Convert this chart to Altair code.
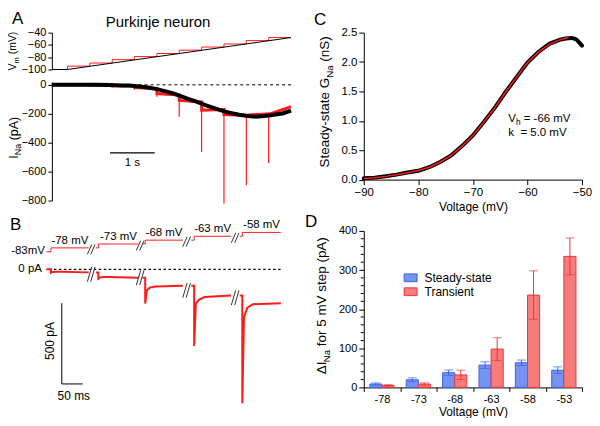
import altair as alt
import pandas as pd

FONT = "Liberation Sans"
RED = "#ff1a1a"
BLUE_FILL = "#7593f3"
BLUE_EDGE = "#3d63e6"
RED_FILL = "#f77b7b"
RED_EDGE = "#e5383b"

# ---------------- Panel A data ----------------
A_T_END = 5.35
STEP_T = [0.35, 0.85, 1.35, 1.85, 2.35, 2.85, 3.35, 3.85, 4.35, 4.85]
STEP_DUR = 0.5
VM_LEVEL = [-94.5, -89.5, -84, -79, -74, -68.5, -63.5, -58.5, -53, -48]
RAMP_T = [0, 0.35, 5.35]
RAMP_V = [-100, -100, -48]
RED_I_START = [0, -3, -6, -18, -60, -108, -175, -205, -210, -205]
RED_I_END = [0, -3, -8, -28, -70, -118, -170, -210, -200, -150]
RED_I_SPIKE = [-10, -15, -20, -35, -82, -220, -465, -820, -695, -540]
BLACK_T = [0, 0.5, 1.0, 1.3, 1.58, 1.74, 1.96, 2.15, 2.33, 2.48, 2.70, 2.85, 3.08,
           3.22, 3.45, 3.60, 3.82, 3.97, 4.19, 4.34, 4.56, 4.79, 4.86, 5.08, 5.16, 5.35]
BLACK_I = [0, 1, 0, -1, -4, -5, -11, -18, -28, -40, -57, -75, -100,
           -115, -142, -157, -180, -192, -207, -214, -220, -213, -212, -202, -198, -178]
A_SCALEBAR_T = [1.3, 2.3]
A_SCALEBAR_I = -471

# ---------------- Panel B data ----------------
B_SEG_START = [-13, 105, 217, 333, 449]
B_STEP_AT = [-2, 111, 223, 340, 455]
B_SEG_END = [88, 207, 313, 428, 547]
B_V_LEVELS = [-83, -78, -73, -68, -63, -58]
B_I_PRE = [0, -19, -52, -102, -162]
B_I_SPIKE = [-22, -58, -212, -475, -830]
B_I_REC1 = [-16, -50, -130, -212, -300]
B_I_REC2 = [-15, -48, -112, -187, -238]
B_I_SS0 = [-15, -48, -106, -172, -216]
B_I_SS1 = [-19, -52, -102, -162, -210]
B_BREAK_MS = [94, 211, 322, 438]
B_BREAK_I = [-31, -52, -130, -176]
B_V_LABELS = ["-78 mV", "-73 mV", "-68 mV", "-63 mV", "-58 mV"]

# ---------------- Panel C data ----------------
C_V = [-90, -88, -86, -84, -82, -80, -78, -76, -74, -72, -70, -68, -66, -64, -62, -60,
       -58, -56, -54, -53, -52, -51.5, -51, -50.5, -50]
C_G = [0.023, 0.034, 0.057, 0.085, 0.12, 0.15, 0.21, 0.30, 0.41, 0.57, 0.75, 0.98, 1.22,
       1.49, 1.74, 1.99, 2.17, 2.31, 2.38, 2.40, 2.41, 2.40, 2.38, 2.33, 2.28]
FIT_V = [-90, -88, -86, -84, -82, -80, -78, -76, -74, -72, -70, -68, -66, -64, -62, -60,
         -58, -56, -54, -52.5]
FIT_G = [0.02, 0.033, 0.055, 0.083, 0.118, 0.155, 0.21, 0.30, 0.41, 0.57, 0.75, 0.98,
         1.22, 1.49, 1.74, 1.99, 2.17, 2.30, 2.38, 2.42]

# ---------------- Panel D data ----------------
VOLT_CATS = ["-78", "-73", "-68", "-63", "-58", "-53"]
SERIES = ["Steady-state", "Transient"]
SS_MEAN = [8.5, 19.5, 37.5, 57, 63, 44]
SS_ERR = [3, 5, 7, 8.5, 7, 8.5]
TR_MEAN = [5, 8.5, 32, 98, 236, 335]
TR_ERR = [2, 3, 12, 29, 62, 47]

# ---------------- helpers ----------------
CW = {' ': .278, '-': .333, '(': .333, ')': .333, '.': .278, '=': .584, 'Δ': .611,
      'a': .556, 'b': .556, 'c': .5, 'd': .556, 'e': .556, 'f': .278, 'g': .556, 'h': .556,
      'i': .222, 'j': .222, 'k': .5, 'l': .222, 'm': .833, 'n': .556, 'o': .556, 'p': .556,
      'r': .333, 's': .5, 't': .278, 'u': .556, 'v': .5, 'w': .722, 'y': .5,
      'A': .667, 'G': .778, 'I': .278, 'N': .722, 'S': .667, 'V': .667}
ONE = pd.DataFrame({"a": [0]})


def tw(s, size):
    return sum(CW.get(c, 0.556) for c in s) * size


def txt(text, x, y, size, align="left", baseline="alphabetic", angle=None, color="black"):
    kw = dict(text=text, align=align, baseline=baseline, font=FONT, fontSize=size, color=color)
    if angle is not None:
        kw["angle"] = angle
    return alt.Chart(ONE).mark_text(**kw).encode(x=alt.value(x), y=alt.value(y))


def split_lead(t):
    n = len(t) - len(t.lstrip(" "))
    return n, t.lstrip(" ")


def vtitle(pieces, bx, cy, size):
    sub = size * 0.72
    ws = [tw(t, sub if s else size) for t, s in pieces]
    y = cy + sum(ws) / 2
    out = []
    for (t, s), w in zip(pieces, ws):
        sz = sub if s else size
        n, body = split_lead(t)
        out.append(txt(body, bx + (0.28 * size if s else 0), y - n * 0.278 * sz, sz, angle=270))
        y -= w
    return out


def htitle(pieces, x0, by, size):
    sub = size * 0.72
    x = x0
    out = []
    for t, s in pieces:
        sz = sub if s else size
        n, body = split_lead(t)
        out.append(txt(body, x + n * 0.278 * sz, by + (0.25 * size if s else 0), sz))
        x += tw(t, sz)
    return out


def anchor(x, y):
    return alt.Chart(ONE).mark_rule(opacity=0).encode(
        x=alt.value(x), x2=alt.value(x), y=alt.value(y), y2=alt.value(y))


AX = dict(title=None, tickSize=4, labelFontSize=11, labelPadding=2, labelOverlap=False,
          labelFlush=False)

# ---------------- Panel A : Vm ----------------
stair = [(0, -100), (STEP_T[0], -100)]
for k, t0 in enumerate(STEP_T):
    stair.append((t0, VM_LEVEL[k]))
    stair.append((t0 + STEP_DUR, VM_LEVEL[k]))
stair_df = pd.DataFrame({"t": [p[0] for p in stair], "v": [p[1] for p in stair],
                         "o": list(range(len(stair)))})
ramp_df = pd.DataFrame({"t": RAMP_T, "v": RAMP_V, "o": list(range(len(RAMP_T)))})

xA = alt.X("t:Q", scale=alt.Scale(domain=[0, A_T_END], nice=False, zero=False), axis=None)
yVm = alt.Y("v:Q", scale=alt.Scale(domain=[-100, -40], nice=False, zero=False),
            axis=alt.Axis(values=[-40, -60, -80, -100], **AX))

vm = alt.layer(
    anchor(-44, -23.5),
    anchor(245, 0),
    alt.Chart(stair_df).mark_line(color=RED, strokeWidth=1).encode(x=xA, y=yVm, order="o:Q"),
    alt.Chart(ramp_df).mark_line(color="black", strokeWidth=1).encode(x=xA, y=yVm, order="o:Q"),
    *vtitle([("V", 0), ("m", 1), (" (mV)", 0)], -35.5, 18.5, 10.5),
    txt("A", -40, -9, 17),
    txt("Purkinje neuron", 106.5, -5.5, 15, align="center"),
).properties(width=240, height=37)

# ---------------- Panel A : INa ----------------
red_pts = [(0, 0), (STEP_T[0], 0)]
for k, t0 in enumerate(STEP_T):
    red_pts.append((t0, RED_I_START[k]))
    red_pts.append((t0 + STEP_DUR, RED_I_END[k]))
red_df = pd.DataFrame({"t": [p[0] for p in red_pts], "i": [p[1] for p in red_pts],
                       "o": list(range(len(red_pts)))})
spk_df = pd.DataFrame({"t": STEP_T, "i": RED_I_START, "i2": RED_I_SPIKE})
blk_df = pd.DataFrame({"t": BLACK_T, "i": BLACK_I})
yI = alt.Y("i:Q", scale=alt.Scale(domain=[-800, 20], nice=False, zero=False),
           axis=alt.Axis(values=[0, -200, -400, -600, -800], **AX))

ina = alt.layer(
    alt.Chart(pd.DataFrame({"i": [0]})).mark_rule(color="black", strokeDash=[3, 3], strokeWidth=1).encode(y=yI),
    alt.Chart(red_df).mark_line(color=RED, strokeWidth=3).encode(x=xA, y=yI, order="o:Q"),
    alt.Chart(spk_df).mark_rule(color=RED, strokeWidth=1.2).encode(x=xA, y=yI, y2="i2:Q"),
    alt.Chart(blk_df).mark_line(color="black", strokeWidth=4).encode(x=xA, y=yI),
    alt.Chart(pd.DataFrame({"t": [A_SCALEBAR_T[0]], "t2": [A_SCALEBAR_T[1]], "i": [A_SCALEBAR_I]}))
    .mark_rule(color="black", strokeWidth=1.2).encode(x=xA, x2="t2:Q", y=yI),
    alt.Chart(pd.DataFrame({"t": [sum(A_SCALEBAR_T) / 2], "i": [-541]}))
    .mark_text(text="1 s", font=FONT, fontSize=11.5, baseline="middle").encode(x=xA, y=yI),
    *vtitle([("I", 0), ("Na", 1), (" (pA)", 0)], -34, 56, 12.5),
).properties(width=240, height=119)

# ---------------- Panel B ----------------
vrows, irows = [], []
for s in range(5):
    for o, (m, v) in enumerate([(B_SEG_START[s], B_V_LEVELS[s]), (B_STEP_AT[s], B_V_LEVELS[s]),
                                (B_STEP_AT[s], B_V_LEVELS[s + 1]), (B_SEG_END[s], B_V_LEVELS[s + 1])]):
        vrows.append({"seg": s, "o": o, "ms": m, "mv": v})
    pts = [(B_SEG_START[s], B_I_PRE[s]), (B_STEP_AT[s], B_I_PRE[s]), (B_STEP_AT[s], B_I_SPIKE[s]),
           (B_STEP_AT[s] + 4, B_I_REC1[s]), (B_STEP_AT[s] + 12, B_I_REC2[s]),
           (B_STEP_AT[s] + 25, B_I_SS0[s]), (B_SEG_END[s], B_I_SS1[s])]
    for o, (m, i) in enumerate(pts):
        irows.append({"seg": s, "o": o, "ms": m, "pa": i})
bv_df = pd.DataFrame(vrows)
bi_df = pd.DataFrame(irows)

vbrk, ibrk = [], []
for b, bx in enumerate(B_BREAK_MS):
    for dx in (-4, 4):
        vbrk.append({"ms": bx + dx - 5.2, "ms2": bx + dx + 5.2,
                     "mv": B_V_LEVELS[b + 1] - 8.4, "mv2": B_V_LEVELS[b + 1] + 4.4})
        ibrk.append({"ms": bx + dx - 5.2, "ms2": bx + dx + 5.2,
                     "pa": B_BREAK_I[b] - 46, "pa2": B_BREAK_I[b] + 46})
vlab_df = pd.DataFrame({"ms": [(a + b) / 2 for a, b in zip(B_STEP_AT, B_SEG_END)],
                        "mv": B_V_LEVELS[1:], "lab": B_V_LABELS})
sb_df = pd.DataFrame({"ms": [23.8, 23.8], "ms2": [23.8, 73.8], "pa": [-210, -710], "pa2": [-710, -710]})

xB = alt.X("ms:Q", scale=alt.Scale(domain=[0, 571.43], nice=False, zero=False), axis=None)
yBI = alt.Y("pa:Q", scale=alt.Scale(domain=[-870.4, 348.8], nice=False, zero=False), axis=None)
yBV = alt.Y("mv:Q", scale=alt.Scale(domain=[-287.4, -32.9], nice=False, zero=False), axis=None)

bchart = alt.layer(
    alt.Chart(pd.DataFrame({"ms": [-7], "ms2": [547], "pa": [0]}))
    .mark_rule(color="black", strokeDash=[2.5, 2.5], strokeWidth=1.3).encode(x=xB, x2="ms2:Q", y=yBI),
    alt.Chart(bv_df).mark_line(color=RED, strokeWidth=1).encode(x=xB, y=yBV, detail="seg:N", order="o:Q"),
    alt.Chart(bi_df).mark_line(color=RED, strokeWidth=2).encode(x=xB, y=yBI, detail="seg:N", order="o:Q"),
    alt.Chart(pd.DataFrame(vbrk)).mark_rule(color="#333333", strokeWidth=1)
    .encode(x=xB, x2="ms2:Q", y=yBV, y2="mv2:Q"),
    alt.Chart(pd.DataFrame(ibrk)).mark_rule(color="#333333", strokeWidth=1)
    .encode(x=xB, x2="ms2:Q", y=yBI, y2="pa2:Q"),
    alt.Chart(sb_df).mark_rule(color="black", strokeWidth=1).encode(x=xB, x2="ms2:Q", y=yBI, y2="pa2:Q"),
    alt.Chart(vlab_df).mark_text(font=FONT, fontSize=11.5, baseline="alphabetic", dy=-4)
    .encode(x=xB, y=yBV, text="lab:N"),
    alt.Chart(pd.DataFrame({"ms": [-16.7], "mv": [-83], "lab": ["-83mV"]}))
    .mark_text(font=FONT, fontSize=11.5, align="right", baseline="middle", dy=-1).encode(x=xB, y=yBV, text="lab:N"),
    alt.Chart(pd.DataFrame({"ms": [-23.8], "pa": [0], "lab": ["0 pA"]}))
    .mark_text(font=FONT, fontSize=11.5, align="right", baseline="middle").encode(x=xB, y=yBI, text="lab:N"),
    alt.Chart(pd.DataFrame({"ms": [-4.8], "pa": [-444], "lab": ["500 pA"]}))
    .mark_text(font=FONT, fontSize=12, angle=270, baseline="middle").encode(x=xB, y=yBI, text="lab:N"),
    alt.Chart(pd.DataFrame({"ms": [52.4], "pa": [-784], "lab": ["50 ms"]}))
    .mark_text(font=FONT, fontSize=12, baseline="middle").encode(x=xB, y=yBI, text="lab:N"),
    txt("B", -42, 17.5, 17),
).resolve_scale(y="independent").properties(width=240, height=197.5)

# ---------------- Panel C ----------------
cdat = pd.DataFrame({"V": C_V, "G": C_G})
cfit = pd.DataFrame({"V": FIT_V, "G": FIT_G})
xC = alt.X("V:Q", scale=alt.Scale(domain=[-90, -50], nice=False, zero=False),
           axis=alt.Axis(values=[-90, -80, -70, -60, -50], title="Voltage (mV)", tickSize=5,
                         labelFontSize=11.5, titleFontSize=12, titlePadding=3, labelPadding=2,
                         labelFlush=False, labelOverlap=False))
yC = alt.Y("G:Q", scale=alt.Scale(domain=[0, 2.5], nice=False),
           axis=alt.Axis(values=[0, 0.5, 1, 1.5, 2, 2.5], format=".1f", title=None, tickSize=5,
                         labelFontSize=11.5, labelPadding=2, labelFlush=False, labelOverlap=False))
cchart = alt.layer(
    anchor(-65, -23.5),
    alt.Chart(cdat).mark_line(color="black", strokeWidth=4, strokeCap="round").encode(x=xC, y=yC),
    alt.Chart(cfit).mark_line(color=RED, strokeWidth=1.5).encode(x=xC, y=yC),
    *htitle([("V", 0), ("h", 1), (" = -66 mV", 0)], 145, 90, 11.5),
    *htitle([("k", 0), ("  = 5.0 mV", 0)], 145, 104, 11.5),
    *vtitle([("Steady-state G", 0), ("Na", 1), (" (nS)", 0)], -35, 69.5, 13.5),
    txt("C", -50, -7.5, 17),
).properties(width=219, height=147.5)

# ---------------- Panel D ----------------
rows = []
for c, m, e in zip(VOLT_CATS, SS_MEAN, SS_ERR):
    rows.append({"volt": c, "series": SERIES[0], "mean": m, "lo": m - e, "hi": m + e})
for c, m, e in zip(VOLT_CATS, TR_MEAN, TR_ERR):
    rows.append({"volt": c, "series": SERIES[1], "mean": m, "lo": m - e, "hi": m + e})
ddf = pd.DataFrame(rows)
caps = pd.concat([ddf.assign(cap=ddf["lo"]), ddf.assign(cap=ddf["hi"])])
minor_df = pd.DataFrame({"mean": [v for v in range(20, 400, 20) if v % 100]})

xD = alt.X("volt:N", sort=VOLT_CATS, scale=alt.Scale(paddingInner=0, paddingOuter=0),
           axis=alt.Axis(title="Voltage (mV)", labelAngle=0, tickBand="extent", tickSize=4,
                         labelFontSize=11, titleFontSize=12, titlePadding=2, labelPadding=2))
xoD = alt.XOffset("series:N", sort=SERIES, scale=alt.Scale(paddingOuter=0.5, paddingInner=0))
ysc = alt.Scale(domain=[0, 400], nice=False)
yax = alt.Axis(values=[0, 100, 200, 300, 400], title=None, tickSize=5, labelFontSize=11,
               labelPadding=2, labelFlush=False, labelOverlap=False)
leg = alt.Legend(title=None, orient="none", legendX=40, legendY=40,
                 symbolType="M-1,-0.6L1,-0.6L1,0.6L-1,0.6Z", symbolSize=169,
                 labelFontSize=12, labelFont=FONT, rowPadding=1, symbolStrokeWidth=1,
                 padding=0, labelOffset=7)

layers_d = [
    alt.Chart(minor_df).mark_rule(color="black", strokeWidth=1)
    .encode(x=alt.value(-3), x2=alt.value(0), y=alt.Y("mean:Q", scale=ysc, axis=yax)),
    alt.Chart(ddf).mark_bar(strokeWidth=1).encode(
        x=xD, xOffset=xoD, y=alt.Y("mean:Q", scale=ysc, axis=yax),
        fill=alt.Fill("series:N", sort=SERIES, scale=alt.Scale(domain=SERIES, range=[BLUE_FILL, RED_FILL]), legend=leg),
        stroke=alt.Stroke("series:N", sort=SERIES, scale=alt.Scale(domain=SERIES, range=[BLUE_EDGE, RED_EDGE]), legend=leg)),
]
for sname, col in zip(SERIES, [BLUE_EDGE, RED_EDGE]):
    layers_d.append(alt.Chart(ddf).transform_filter(alt.datum.series == sname)
                    .mark_rule(color=col, strokeWidth=1)
                    .encode(x=xD, xOffset=xoD, y=alt.Y("lo:Q", scale=ysc, axis=yax), y2="hi:Q"))
    layers_d.append(alt.Chart(caps).transform_filter(alt.datum.series == sname)
                    .mark_tick(color=col, size=9, thickness=1, orient="horizontal")
                    .encode(x=xD, xOffset=xoD, y=alt.Y("cap:Q", scale=ysc, axis=yax)))
layers_d += vtitle([("ΔI", 0), ("Na", 1), (" for 5 mV step (pA)", 0)], -37.5, 75, 13.5)
layers_d.append(txt("D", -59, -4, 17))
dchart = alt.layer(*layers_d).properties(width=219, height=157)

# ---------------- assemble ----------------
left = alt.vconcat(vm, ina, bchart, spacing=12.5, bounds="flush")
right = alt.vconcat(cchart, dchart, spacing=51, bounds="flush").resolve_scale(fill="independent", stroke="independent")
chart = alt.hconcat(left, right, spacing=0).properties(padding=0).configure_view(stroke=None).configure_axis(
    domainColor="black", tickColor="black", labelColor="black", titleColor="black", grid=False,
    labelFont=FONT, titleFont=FONT, titleFontWeight="normal", domainWidth=1, tickWidth=1,
    labelFlush=False
).configure_legend(labelColor="black")

chart.save("out.html", embed_options={"renderer": "svg", "actions": False})
